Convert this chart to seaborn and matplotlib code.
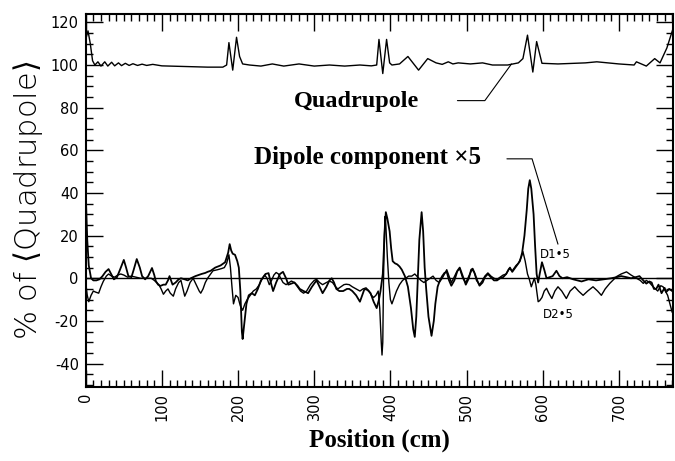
import numpy as np
import pandas as pd
import seaborn as sns
import matplotlib.pyplot as plt
from matplotlib.ticker import MultipleLocator

# values (position in cm, % of <Quadrupole>)
quad_pos = [0, 3, 6, 9, 12, 16, 20, 25, 29, 34, 38, 43, 47, 52, 57, 62, 68, 74, 80, 88,
            100, 120, 140, 160, 180, 185, 188, 193, 198, 202, 206, 215, 230, 245, 260, 280,
            300, 320, 340, 360, 375, 382, 385, 390, 395, 399, 402, 412, 423, 437, 449, 460,
            468, 476, 482, 489, 505, 521, 534, 554, 568, 574, 580, 587, 592, 599, 620, 656,
            671, 700, 720, 723, 736, 747, 754, 763, 771]
quad_val = [112, 116, 110, 102, 100, 101.5, 99.5, 101.5, 99.5, 101.3, 99.6, 101, 99.7, 100.8,
            99.8, 100.6, 99.8, 100.4, 99.8, 100.3, 99.6, 99.4, 99.2, 99.0, 99.0, 100, 110.5,
            97.6, 113, 104, 100.5, 100, 99.5, 100.5, 99.5, 100.5, 99.5, 100, 99.5, 100, 99.6,
            100, 112, 96, 112, 101, 100, 100.5, 104, 97.6, 103, 101, 100.3, 101.5, 100.5, 101,
            100.5, 101, 100, 100, 101, 103, 114, 96.7, 111, 100.8, 100.5, 101, 101.5, 100.5,
            100, 101.5, 99.5, 103, 101, 108, 117]

d1_pos = [0, 2, 4, 7, 10, 14, 18, 22, 26, 30, 34, 37, 41, 45, 50, 53, 56, 60, 63, 67, 71, 74,
          78, 82, 87, 90, 92, 95, 98, 102, 105, 108, 110, 112, 114, 118, 122, 125, 130, 134,
          138, 141, 144, 148, 152, 157, 160, 164, 170, 177, 183, 187, 189, 191, 193, 196, 199,
          201, 203, 205, 206, 208, 211, 214, 218, 222, 226, 230, 233, 236, 240, 243, 246, 250,
          255, 259, 263, 266, 270, 274, 278, 281, 286, 292, 297, 303, 307, 311, 316, 320, 323,
          326, 329, 333, 338, 343, 346, 350, 355, 360, 363, 366, 370, 374, 378, 382, 385, 387,
          390, 392, 394, 396, 399, 401, 403, 406, 409, 412, 415, 419, 423, 427, 430, 432, 434,
          436, 438, 441, 443, 445, 447, 450, 454, 457, 459, 462, 465, 468, 471, 474, 477, 480,
          484, 488, 491, 495, 499, 503, 506, 508, 511, 514, 517, 521, 524, 528, 532, 536, 540,
          544, 548, 552, 555, 557, 560, 566, 570, 573, 576, 579, 581, 583, 585, 586, 588, 590,
          592, 594, 596, 599, 602, 605, 609, 613, 618, 622, 626, 632, 640, 651, 660, 670, 680,
          690, 697, 703, 710, 716, 722, 727, 732, 736, 740, 743, 746, 749, 752, 756, 760, 762,
          766, 770]
d1_val = [40, 18, 6, 0, -1, -1, -0.5, 1, 3, 4.3, 1.5, -0.5, 0.5, 4, 8.6, 5, 1, 0.5, 4, 9, 5,
          1, -0.5, 1, 4.8, 1.5, -1.3, -3, -3.6, -3, -3, -1, 1, -1, -3, -2, -0.5, 0, -0.5, -1,
          0, 0.5, 1, 1.5, 2, 2.5, 3, 3.5, 5, 6, 7.5, 12, 16, 13, 11.5, 11, 8, 5, -6, -25,
          -28.5, -22, -12, -8, -7, -8, -5, -1, 0.5, 2, 2.4, -2, -6, -2, 2, 3, 0, -3, -2.5, -2,
          -3.5, -5, -6, -7, -4, -1, -4, -7, -4, -1, 0, -2, -5, -6, -6, -5, -5, -6, -8, -11, -8,
          -5, -5.5, -7, -11, -14, -10, -6, 2, 18, 31, 28, 22, 14, 8, 7, 6.5, 5.5, 4, 1, -4,
          -14, -24, -27.5, -18, 0, 18, 31, 22, 5, -5, -18, -27, -20, -12, -4, -1, 1, 2.5, 3,
          -1, -3.5, -1, 3.5, 5, 1, -3, 0, 4, 4.5, 2, -1, -3.5, -2, 0.5, 2, 0.5, -1, -1, 0, 0.5,
          2, 4, 5, 3, 6, 8, 12, 20, 32, 42, 46, 42, 38, 30, 15, 2, -2, 2, 7.5, 4, 0, 0.5, 1,
          3.5, 1, 0, 0.5, -0.5, -1.5, -0.5, -1, -0.5, 0, 0.5, 1, 0.5, 0, 0.5, 1, -1, -2.5,
          -1.5, -2, -5, -5, -3, -7, -4.5, -6.5, -5, -6]

d2_pos = [0, 2, 4, 7, 10, 13, 17, 20, 23, 27, 30, 34, 38, 42, 46, 50, 55, 60, 66, 72, 79, 86,
          90, 96, 99, 102, 105, 108, 111, 115, 118, 122, 125, 127, 130, 133, 137, 141, 145, 149,
          151, 154, 157, 160, 164, 167, 173, 178, 182, 185, 188, 190, 192, 194, 197, 200, 203,
          206, 209, 212, 216, 220, 224, 228, 232, 235, 238, 241, 244, 247, 250, 253, 256, 259,
          263, 267, 270, 274, 278, 282, 286, 290, 295, 300, 303, 307, 311, 316, 320, 324, 328,
          331, 335, 339, 342, 346, 350, 355, 360, 364, 368, 372, 375, 378, 381, 384, 386, 388,
          389, 390, 391, 392, 393, 394, 396, 398, 400, 402, 405, 408, 412, 416, 420, 424, 428,
          432, 436, 440, 444, 448, 452, 456, 460, 464, 468, 471, 474, 477, 480, 483, 487, 491,
          495, 499, 503, 507, 510, 513, 517, 521, 524, 528, 532, 536, 540, 544, 548, 552, 556,
          560, 565, 568, 572, 574, 577, 580, 582, 585, 587, 589, 591, 594, 596, 599, 602, 605,
          608, 612, 616, 620, 625, 631, 636, 642, 647, 653, 659, 666, 672, 677, 682, 688, 692,
          697, 703, 710, 716, 723, 728, 732, 736, 740, 745, 748, 751, 755, 758, 761, 764, 767,
          770]
d2_val = [-2, -8, -11, -8, -6, -6.5, -7, -4, -1.5, 1, 2, 1, 0.5, 1.5, 2, 1.5, 0.5, 1, 0.5, 0,
          0, 0, -1, -3, -5, -7.5, -6, -5, -7, -8.4, -5, -2, -1, -4, -8.4, -6, -2, 0, -3, -6,
          -7, -5, -2, 0, 2, 3.5, 4, 4.5, 5, 7, 11, 5, -4, -12, -8, -9, -13, -15, -12, -10, -8,
          -6, -5, -3, 0, 1.5, 0, -3, -1, 1.5, 2.7, 2, 0, -2, -3, -2, -1.3, -2, -4, -6, -7, -6,
          -3, -1, -0.5, -2, -3, -2, -1.3, -2, -4, -5, -4, -3, -2.8, -3, -4, -5, -6, -5, -4.5,
          -6, -8, -9, -8, -6, -14, -30, -36, -30, 0, 20, 29, 25, 10, -2, -10, -12, -9, -6, -3,
          -1, 0, 1, 1, 2, 0.5, -1, -2, -1, 0, 1, -1, -2, 0, 2, 4, 1, -2, 0, 3, 4.5, 0, -2, 1,
          4, 3, -1, -3, -1, 1, 2.5, 1, 0, -0.5, 0.5, 1.5, 2, 4.5, 3.5, 6, 7, 10, 12.5, 8, 2,
          0, -4, -2, 0, -3, -11, -10.5, -9, -6, -4.7, -7, -9.5, -6, -4, -6, -9.5, -6, -4, -6,
          -8, -6, -4, -6, -8, -5, -2.4, -1, 0.8, 2, 3, 1.5, 0, -1, -2.4, -1, -2, -4, -5, -6,
          -3.5, -4, -6, -8, -12, -16]

x_ticks = [0, 100, 200, 300, 400, 500, 600, 700]
y_ticks = [-40, -20, 0, 20, 40, 60, 80, 100, 120]

sns.set_style("ticks")
plt.rcParams['font.family'] = ['DejaVu Sans']
plt.rcParams['axes.unicode_minus'] = False
plt.rcParams['text.color'] = 'black'
plt.rcParams['axes.labelcolor'] = 'black'
plt.rcParams['xtick.color'] = 'black'
plt.rcParams['ytick.color'] = 'black'

fig, ax = plt.subplots(figsize=(6.75, 4.61), dpi=100)
fig.subplots_adjust(left=0.127, right=0.997, top=0.970, bottom=0.1605)

quad = pd.DataFrame({'pos': quad_pos, 'val': quad_val})
d1 = pd.DataFrame({'pos': d1_pos, 'val': d1_val})
d2 = pd.DataFrame({'pos': d2_pos, 'val': d2_val})

ax.axhline(0, color='black', lw=1.0)
sns.lineplot(data=quad, x='pos', y='val', color='black', lw=1.0, estimator=None, ax=ax)
sns.lineplot(data=d1, x='pos', y='val', color='black', lw=1.3, estimator=None, ax=ax)
sns.lineplot(data=d2, x='pos', y='val', color='black', lw=1.0, estimator=None, ax=ax)

ax.set_xlim(0, 771)
ax.set_ylim(-51, 124)

ax.set_xticks(x_ticks)
ax.set_yticks(y_ticks)
ax.xaxis.set_minor_locator(MultipleLocator(10))
ax.yaxis.set_minor_locator(MultipleLocator(5))
ax.tick_params(which='both', direction='in', top=True, right=True, color='black', width=1.0)
ax.tick_params(which='major', length=12)
ax.tick_params(which='minor', length=5)
ax.tick_params(axis='x', which='major', labelsize=10.5, labelrotation=90, pad=4)
ax.tick_params(axis='y', which='major', labelsize=10.5, pad=5)
for s in ax.spines.values():
    s.set_linewidth(1.5)
    s.set_color('black')

ax.set_xlabel('Position (cm)', family='Liberation Serif', fontweight='bold', fontsize=18, labelpad=6)
ax.set_ylabel(r'% of $\langle$Quadrupole$\rangle$', fontsize=22, fontweight='light', labelpad=4)

# labels and leader lines
ax.text(356, 83, 'Quadrupole', family='Liberation Serif', fontweight='bold', fontsize=17.5,
        ha='center', va='center')
ax.plot([488, 524, 559], [83.3, 83.3, 100.5], color='black', lw=0.8)
ax.text(370, 56.5, 'Dipole component \u00d75', family='Liberation Serif', fontweight='bold',
        fontsize=18, ha='center', va='center')
ax.plot([553, 586, 620], [56, 56, 16], color='black', lw=0.8)
ax.text(616, 11, 'D1\u20225', fontsize=8.5, ha='center', va='center')
ax.text(621, -17, 'D2\u20225', fontsize=8.5, ha='center', va='center')

fig.savefig('out.png', dpi=100)
